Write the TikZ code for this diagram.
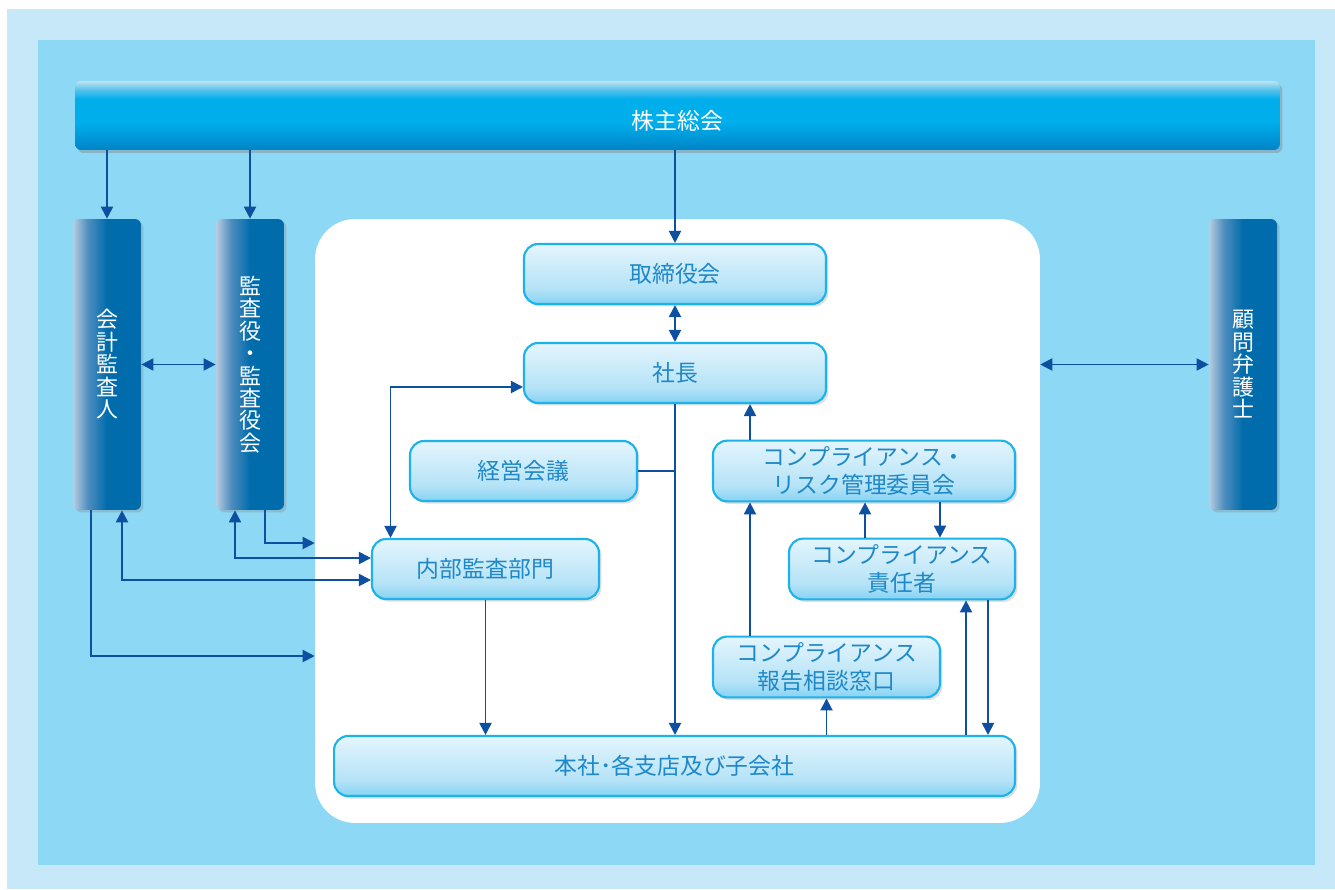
\documentclass[tikz,border=0pt]{standalone}
\usepackage{fontspec}
\setmainfont{Noto Sans CJK JP}
\usetikzlibrary{arrows.meta,calc,shadows}

\definecolor{framelight}{HTML}{C6E8F8}
\definecolor{framemid}{HTML}{8DD8F5}
\definecolor{arrowblue}{HTML}{0D4FA0}
\definecolor{boxline}{HTML}{1CB2EA}
\definecolor{boxtext}{HTML}{1E88C8}
\definecolor{boxtop}{HTML}{E4F5FD}
\definecolor{boxmid}{HTML}{B5E3F7}
\definecolor{boxbottom}{HTML}{86D3F3}
\definecolor{barlight}{HTML}{BFE3F2}
\definecolor{barsoft}{HTML}{5CC4EC}
\definecolor{barmid}{HTML}{00AEEB}
\definecolor{bardark}{HTML}{0084C6}
\definecolor{sidelight}{HTML}{B8CDE0}
\definecolor{sidemid}{HTML}{4F8DBE}
\definecolor{sidedark}{HTML}{006CAB}

\pgfdeclareverticalshading{barfill}{100bp}{color(0bp)=(bardark); color(25bp)=(bardark); color(45bp)=(barmid); color(62bp)=(barmid); color(69bp)=(barsoft); color(75bp)=(barlight); color(100bp)=(barlight)}
\pgfdeclarehorizontalshading{sidefill}{100bp}{color(0bp)=(sidelight); color(25bp)=(sidelight); color(36bp)=(sidemid); color(50bp)=(sidedark); color(100bp)=(sidedark)}
\pgfdeclareverticalshading{boxfill}{100bp}{color(0bp)=(boxbottom); color(25bp)=(boxbottom); color(38bp)=(boxmid); color(75bp)=(boxtop); color(100bp)=(boxtop)}

\begin{document}
\begin{tikzpicture}[x=0.02cm, y=-0.02cm,
    unit/.style={shade, shading=boxfill, draw=boxline, line width=1.2pt, rounded corners=0.28cm,
      text=boxtext, align=center, minimum height=1.2cm, font=\fontsize{13}{16}\selectfont,
      drop shadow={shadow xshift=0.05cm, shadow yshift=-0.05cm, opacity=0.25}},
    side/.style={shade, shading=sidefill, rounded corners=0.12cm, text=white, align=center,
      minimum width=1.36cm, minimum height=5.82cm, font=\fontsize{12.5}{12.8}\selectfont,
      drop shadow={shadow xshift=0.05cm, shadow yshift=-0.05cm, opacity=0.3}},
    arr/.style={arrowblue, line width=1.1pt, -{Triangle[length=0.24cm,width=0.24cm]}},
    dbl/.style={arr, {Triangle[length=0.24cm,width=0.24cm]}-{Triangle[length=0.24cm,width=0.24cm]}}]
    \useasboundingbox (0,0) rectangle (1335,889);
    \fill[framelight] (7,9) rectangle (1335,889);
    \fill[framemid] (38,40) rectangle (1315,865);

    \node[shade, shading=barfill, rounded corners=0.12cm, text=white, minimum width=24.1cm, minimum height=1.38cm,
      font=\fontsize{13}{16}\selectfont, text height=0.58cm, text depth=0cm,
      drop shadow={shadow xshift=0.05cm, shadow yshift=-0.06cm, opacity=0.4}] (soukai) at (677.5,115.5) {株主総会};

    \node[side] (kaikei) at (107,364.5) {会\\計\\監\\査\\人};
    \node[side] (kansa) at (250,364.5) {監\\査\\役\\・\\監\\査\\役\\会};
    \node[side] (bengo) at (1243,364.5) {顧\\問\\弁\\護\\士};

    \node[fill=white, rounded corners=0.8cm, minimum width=14.5cm, minimum height=12.08cm, inner sep=0pt] (panel) at (677.5,521) {};

    \node[unit, minimum width=6.04cm] (torishimari) at (675,274) {取締役会};
    \node[unit, minimum width=6.04cm] (shacho) at (675,373) {社長};
    \node[unit, minimum width=4.54cm] (keiei) at (523.5,471) {経営会議};
    \node[unit, minimum width=6.04cm] (iinkai) at (864,471) {コンプライアンス・\\リスク管理委員会};
    \node[unit, minimum width=4.54cm] (naibu) at (485.5,569) {内部監査部門};
    \node[unit, minimum width=4.52cm] (sekinin) at (902,569) {コンプライアンス\\責任者};
    \node[unit, minimum width=4.54cm] (madoguchi) at (826.5,667) {コンプライアンス\\報告相談窓口};
    \node[unit, minimum width=13.62cm] (honsha) at (674.5,766) {本社･各支店及び子会社};

    \coordinate (kin) at (panel.west |- 0,656);
    \coordinate (kout) at (panel.west |- 0,543);
    \coordinate (sup) at ($(sekinin.south)+(64,0)$);
    \coordinate (sdown) at ($(sekinin.south)+(86,0)$);

    \draw[arr] (kaikei.north |- soukai.south) -- (kaikei.north);
    \draw[arr] (kansa.north |- soukai.south) -- (kansa.north);
    \draw[arr] (torishimari.north |- soukai.south) -- (torishimari.north);
    \draw[dbl] (torishimari.south) -- (shacho.north);
    \draw[dbl] (kaikei.east) -- (kansa.west);
    \draw[dbl] (panel.east |- bengo.west) -- (bengo.west);

    \draw[arr] ($(kaikei.south)+(-16,0)$) |- (kin);
    \draw[dbl] ($(kaikei.south)+(15,0)$) |- ($(naibu.west)+(0,11)$);
    \draw[dbl] ($(kansa.south)+(-15,0)$) |- ($(naibu.west)+(0,-11)$);
    \draw[arr] ($(kansa.south)+(15,0)$) |- (kout);
    \draw[dbl] ($(shacho.west)+(0,14)$) -| ($(naibu.north)+(-95,0)$);

    \draw[arrowblue, line width=1.1pt] (keiei.east) -- (keiei.east -| shacho.south);
    \draw[arr] (shacho.south) -- (shacho.south |- honsha.north);
    \draw[arr] (naibu.south) -- (naibu.south |- honsha.north);

    \draw[arr] ($(iinkai.north)+(-114,0)$) -- ($(shacho.south)+(75,0)$);
    \draw[arr] ($(madoguchi.north)+(-76.5,0)$) -- ($(iinkai.south)+(-114,0)$);
    \draw[arr] ($(sekinin.north)+(-37,0)$) -- ($(iinkai.south)+(1,0)$);
    \draw[arr] ($(iinkai.south)+(76,0)$) -- ($(sekinin.north)+(38,0)$);
    \draw[arr] (madoguchi.south |- honsha.north) -- (madoguchi.south);
    \draw[arr] (sup |- honsha.north) -- (sup);
    \draw[arr] (sdown) -- (sdown |- honsha.north);
\end{tikzpicture}
\end{document}
